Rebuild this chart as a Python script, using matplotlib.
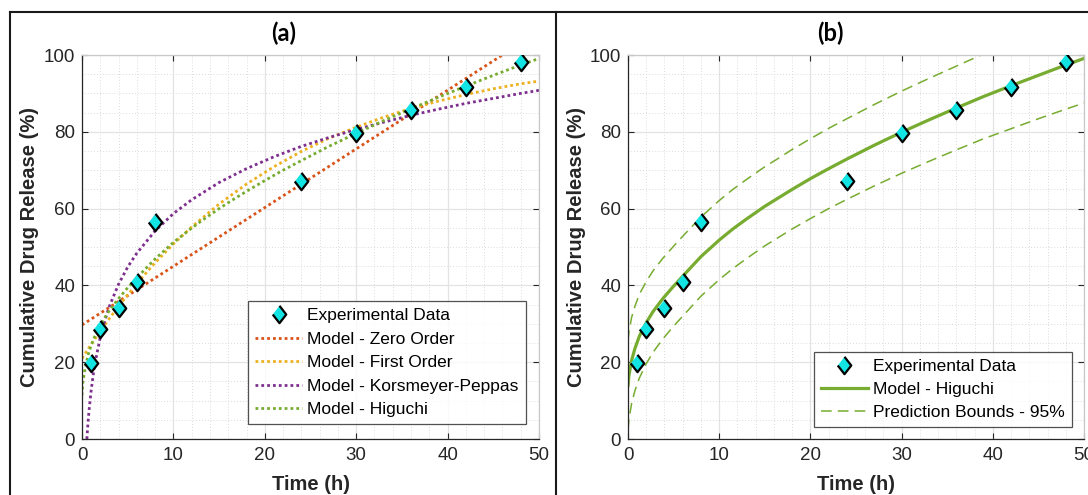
import matplotlib

matplotlib.use("Agg")

import matplotlib.pyplot as plt
from matplotlib.lines import Line2D
from matplotlib.ticker import MultipleLocator

plt.rcParams["font.family"] = ["Liberation Sans", "DejaVu Sans"]

# experimental release data
time_h = [1, 2, 4, 6, 8, 24, 30, 36, 42, 48]
release = [19.8, 28.7, 34.1, 41.0, 56.6, 67.3, 79.8, 85.8, 91.7, 98.1]

# model curves
zero_t = [0, 46]
zero_y = [29.7, 100.0]

first_t = [0, 1, 2, 3, 4, 6, 8, 10, 12, 15, 18, 21, 24, 27, 30, 33, 36, 39, 42, 45, 48, 50]
first_y = [21.0, 24.6, 28.1, 31.4, 34.6, 40.5, 45.9, 50.8, 55.2, 61.2, 66.4, 70.9,
           74.9, 78.3, 81.2, 83.8, 86.1, 88.0, 89.7, 91.2, 92.5, 93.2]

kp_t = [0.533, 0.6, 0.7, 0.8, 1, 1.25, 1.5, 2, 2.5, 3, 4, 5, 6, 8, 10, 12, 15, 18, 21,
        24, 27, 30, 33, 36, 39, 42, 45, 48, 50]
kp_y = [0.0, 2.4, 5.5, 8.1, 12.6, 17.1, 20.7, 26.5, 30.9, 34.6, 40.3, 44.8, 48.4, 54.2,
        58.7, 62.3, 66.8, 70.4, 73.5, 76.2, 78.5, 80.6, 82.5, 84.3, 85.9, 87.4, 88.7,
        90.0, 90.8]

fit_t = [0, 0.1, 0.4, 0.75, 1.25, 2, 2.75, 3.8, 5, 6.2, 8, 10, 11.5, 13, 15, 16.5, 18,
         20, 22, 24, 27, 30, 33, 36, 39, 42, 45, 48, 50]
higuchi_a = [11.4, 14.8, 19.3, 22.6, 26.0, 29.6, 32.6, 36.0, 39.4, 42.5, 46.9, 51.2,
             54.0, 56.7, 60.0, 62.3, 64.5, 67.3, 70.0, 72.5, 76.2, 79.6, 82.9, 86.0,
             89.0, 91.9, 94.7, 97.4, 99.1]
higuchi_b = [13.9, 16.5, 20.5, 23.5, 26.8, 30.3, 33.2, 36.5, 39.8, 42.9, 47.5, 51.8,
             54.7, 57.3, 60.6, 62.8, 65.0, 67.8, 70.4, 72.9, 76.5, 79.9, 83.1, 86.2,
             89.2, 92.0, 94.7, 97.4, 99.1]
upper_b = [25.5, 27.9, 31.7, 34.5, 37.7, 41.0, 43.8, 47.0, 50.2, 53.3, 57.8, 62.1,
           65.0, 67.6, 70.9, 73.1, 75.4, 78.2, 80.9, 83.4, 87.1, 90.6, 93.9, 97.1,
           100.3, 103.2, 106.1, 108.9, 110.7]
lower_b = [2.3, 5.1, 9.3, 12.5, 15.9, 19.6, 22.6, 26.0, 29.4, 32.5, 37.2, 41.5, 44.4,
           47.0, 50.3, 52.5, 54.7, 57.4, 60.0, 62.4, 65.9, 69.2, 72.3, 75.3, 78.2,
           80.8, 83.4, 85.9, 87.5]

RED = "#d95319"
YELLOW = "#edb120"
PURPLE = "#7e2f8e"
GREEN = "#77ac30"
CYAN = "#12e3e3"
AXIS = "#262626"
DIAMOND = [(0, 1), (0.78, 0), (0, -1), (-0.78, 0)]
DOTS = (0, (1, 1.1))

W, H = 1088, 495
fig = plt.figure(figsize=(W / 100, H / 100), dpi=100)


def px_axes(x0, x1, y0, y1):
    return fig.add_axes([x0 / W, 1 - y1 / H, (x1 - x0) / W, (y1 - y0) / H])


def style(ax):
    ax.set_xlim(0, 50)
    ax.set_ylim(0, 100)
    ax.xaxis.set_major_locator(MultipleLocator(10))
    ax.yaxis.set_major_locator(MultipleLocator(20))
    ax.xaxis.set_minor_locator(MultipleLocator(2))
    ax.yaxis.set_minor_locator(MultipleLocator(5))
    ax.grid(which="major", color="#e3e3e3", linewidth=0.9)
    ax.grid(which="minor", color="#cfcfcf", linewidth=0.6, linestyle=(0, (1, 2.5)))
    ax.set_axisbelow(True)
    ax.tick_params(which="major", direction="in", length=4, width=0.8, colors=AXIS,
                   labelsize=13.5, top=True, right=True, pad=6)
    ax.tick_params(which="minor", length=0)
    ax.tick_params(axis="y", pad=5)
    for side in ("left", "bottom"):
        ax.spines[side].set_color(AXIS)
        ax.spines[side].set_linewidth(0.9)
    for side in ("top", "right"):
        ax.spines[side].set_color("#c8c8c8")
        ax.spines[side].set_linewidth(0.9)
    ax.set_xlabel("Time (h)", fontsize=14.5, fontweight="bold", color=AXIS)
    ax.set_ylabel("Cumulative Drug Release (%)", fontsize=14.5, fontweight="bold",
                  color=AXIS)
    ax.xaxis.set_label_coords(0.5, -0.095)
    ax.yaxis.set_label_coords(-0.093, 0.5)


def experimental(ax):
    ax.plot(time_h, release, linestyle="none", marker=DIAMOND, markersize=12.5,
            markerfacecolor=CYAN, markeredgecolor="black", markeredgewidth=1.6,
            label="Experimental Data", zorder=5)


# panel (a): all four models
ax1 = px_axes(82, 539, 55, 439)
style(ax1)
experimental(ax1)
ax1.plot(zero_t, zero_y, color=RED, lw=2.0, linestyle=DOTS, label="Model - Zero Order")
ax1.plot(first_t, first_y, color=YELLOW, lw=2.0, linestyle=DOTS,
         label="Model - First Order")
ax1.plot(kp_t, kp_y, color=PURPLE, lw=2.0, linestyle=DOTS,
         label="Model - Korsmeyer-Peppas")
ax1.plot(fit_t, higuchi_a, color=GREEN, lw=2.0, linestyle=DOTS, label="Model - Higuchi")
leg1 = ax1.legend(loc="lower right", bbox_to_anchor=(0.971, 0.039), fontsize=12.5,
                  frameon=True, fancybox=False, edgecolor=AXIS, borderpad=0.4,
                  labelspacing=0.48, handlelength=2.7, handletextpad=0.3,
                  borderaxespad=0)
leg1.get_frame().set_linewidth(0.9)

# panel (b): Higuchi with prediction bounds
ax2 = px_axes(628, 1084, 55, 439)
style(ax2)
experimental(ax2)
ax2.plot(fit_t, higuchi_b, color=GREEN, lw=2.3, label="Model - Higuchi")
ax2.plot(fit_t, upper_b, color=GREEN, lw=1.1, linestyle=(0, (7, 4)),
         label="Prediction Bounds - 95%")
ax2.plot(fit_t, lower_b, color=GREEN, lw=1.1, linestyle=(0, (7, 4)))
leg2 = ax2.legend(loc="lower right", bbox_to_anchor=(0.973, 0.032), fontsize=12.5,
                  frameon=True, fancybox=False, edgecolor=AXIS, borderpad=0.4,
                  labelspacing=0.45, handlelength=2.7, handletextpad=0.3,
                  borderaxespad=0)
leg2.get_frame().set_linewidth(0.9)

# panel titles and the frame around the two figure panes
fig.text(284 / W, 1 - 33 / H, "(a)", ha="center", va="center", fontsize=17,
         fontweight="bold", family="Lato")
fig.text(830 / W, 1 - 33 / H, "(b)", ha="center", va="center", fontsize=17,
         fontweight="bold", family="Lato")
for xs, ys in (([10, W], [12, 12]), ([10, 10], [12, H]), ([556, 556], [12, H])):
    fig.add_artist(Line2D([x / W for x in xs], [1 - y / H for y in ys],
                          transform=fig.transFigure, color="#1a1a1a", lw=1.5))

fig.savefig("out.png", dpi=100, facecolor="white")
